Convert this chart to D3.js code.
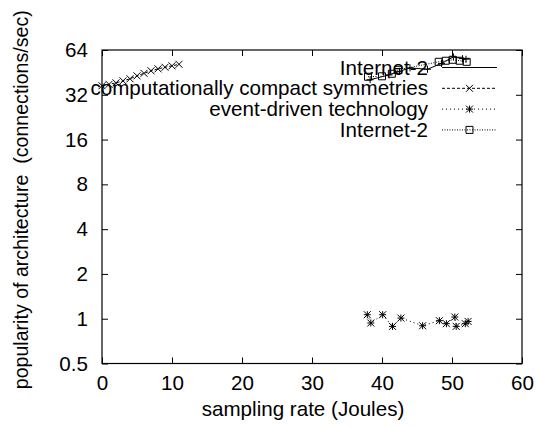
<!DOCTYPE html>
<html><head><meta charset="utf-8">
<script src="https://cdn.jsdelivr.net/npm/d3@7"></script>
<style>
body{margin:0;background:#fff;}
text{font-family:"Liberation Sans",Arial,sans-serif;fill:#000;}
</style></head>
<body><svg id="c" width="536" height="428"></svg>
<script>
const xTicks = [0, 10, 20, 30, 40, 50, 60];
const yTicks = [0.5, 1, 2, 4, 8, 16, 32, 64];
const yTickLabels = ["0.5", "1", "2", "4", "8", "16", "32", "64"];
const seriesNames = ["Internet-2", "computationally compact symmetries", "event-driven technology", "Internet-2"];

const s1x = [38.3, 41.0, 42.5, 44.0, 46.5, 48.5, 50.2, 51.5, 52.0];
const s1y = [40.4, 43.5, 46.0, 48.5, 47.5, 52.0, 57.5, 56.0, 55.5];
const s2x = [0, 1, 2, 3, 4, 5, 6, 7, 8, 9, 10, 11];
const s2y = [36.8, 37.6, 38.5, 39.7, 41.0, 42.9, 44.6, 46.4, 47.8, 49.0, 50.1, 51.3];
const s3x = [37.9, 38.4, 40.1, 41.5, 42.7, 45.8, 48.2, 49.2, 50.4, 50.6, 51.9, 52.3];
const s3y = [1.064, 0.936, 1.064, 0.888, 1.01, 0.897, 0.97, 0.926, 1.026, 0.888, 0.926, 0.959];
const s4x = [38.0, 40.0, 41.4, 42.3, 48.1, 49.1, 50.1, 51.1, 52.1];
const s4y = [42.3, 42.6, 44.3, 47.1, 53.3, 54.2, 55.0, 54.2, 53.3];

const W = 536, H = 428;
const L = 102, R = 522, T = 50, B = 363.5;
const svg = d3.select("#c");
const x = d3.scaleLinear().domain([0, 60]).range([L, R]);
const y = d3.scaleLog().base(2).domain([0.5, 64]).range([B, T]);
const FS = 20.6;

// axes with inward ticks
const tl = 6;
const gB = svg.append("g").attr("transform", `translate(0,${B})`)
  .call(d3.axisBottom(x).tickValues(xTicks).tickSize(-tl).tickPadding(tl + 6).tickFormat(d3.format("d")));
const gT = svg.append("g").attr("transform", `translate(0,${T})`)
  .call(d3.axisTop(x).tickValues(xTicks).tickSize(-tl).tickFormat(""));
const gL = svg.append("g").attr("transform", `translate(${L},0)`)
  .call(d3.axisLeft(y).tickValues(yTicks).tickSize(-tl).tickPadding(tl + 8).tickFormat((d, i) => yTickLabels[i]));
const gR = svg.append("g").attr("transform", `translate(${R},0)`)
  .call(d3.axisRight(y).tickValues(yTicks).tickSize(-tl).tickFormat(""));
[gB, gT, gL, gR].forEach(g => {
  g.select(".domain").remove();
  g.selectAll("line").attr("stroke", "#000").attr("stroke-width", 1);
  g.selectAll("text").attr("font-size", FS).attr("font-family", "Liberation Sans, Arial, sans-serif").attr("fill", "#000");
});
gB.selectAll("text").attr("dy", "0.71em");
svg.append("rect").attr("x", L).attr("y", T).attr("width", R - L).attr("height", B - T)
  .attr("fill", "none").attr("stroke", "#000").attr("stroke-width", 1.2);

// axis labels
svg.append("text").attr("x", (L + R) / 2 - 9).attr("y", 416).attr("text-anchor", "middle")
  .attr("font-size", FS).text("sampling rate (Joules)");
svg.append("text").attr("transform", `translate(28,${(T + B) / 2 - 7}) rotate(-90)`)
  .attr("text-anchor", "middle").attr("font-size", 19.6).style("white-space", "pre")
  .text("popularity of architecture  (connections/sec)");

// markers
function marker(g, type, cx, cy) {
  const s = 3.5;
  const p = d3.path();
  if (type === "plus" || type === "star") {
    p.moveTo(cx - s, cy); p.lineTo(cx + s, cy);
    p.moveTo(cx, cy - s); p.lineTo(cx, cy + s);
  }
  if (type === "cross" || type === "star") {
    p.moveTo(cx - s, cy - s); p.lineTo(cx + s, cy + s);
    p.moveTo(cx - s, cy + s); p.lineTo(cx + s, cy - s);
  }
  if (type === "box") {
    p.rect(cx - s, cy - s, 2 * s, 2 * s);
  }
  g.append("path").attr("d", p.toString()).attr("fill", "none").attr("stroke", "#000").attr("stroke-width", 1);
}

const series = [
  {xs: s1x, ys: s1y, dash: null, m: "plus"},
  {xs: s2x, ys: s2y, dash: "3,2", m: "cross"},
  {xs: s3x, ys: s3y, dash: "1,3", m: "star"},
  {xs: s4x, ys: s4y, dash: "1,1.5", m: "box"}
];
const line = d3.line().x(d => x(d[0])).y(d => y(d[1]));
const legTextX = 428, legL = 442, legR = 497;
series.forEach((s, i) => {
  const g = svg.append("g");
  const pts = s.xs.map((v, k) => [v, s.ys[k]]);
  // key
  const by = 74.5 + 20.8 * i;
  const ky = by - 7;
  g.append("text").attr("x", legTextX).attr("y", by).attr("text-anchor", "end").attr("font-size", FS).text(seriesNames[i]);
  g.append("line").attr("x1", legL).attr("x2", legR).attr("y1", ky).attr("y2", ky)
    .attr("stroke", "#000").attr("stroke-width", 1).attr("stroke-dasharray", s.dash);
  if (i > 0) marker(g, s.m, (legL + legR) / 2, ky);
  // data
  g.append("path").attr("d", line(pts)).attr("fill", "none").attr("stroke", "#000")
    .attr("stroke-width", 1).attr("stroke-dasharray", s.dash);
  pts.forEach(d => marker(g, s.m, x(d[0]), y(d[1])));
});
</script></body></html>
